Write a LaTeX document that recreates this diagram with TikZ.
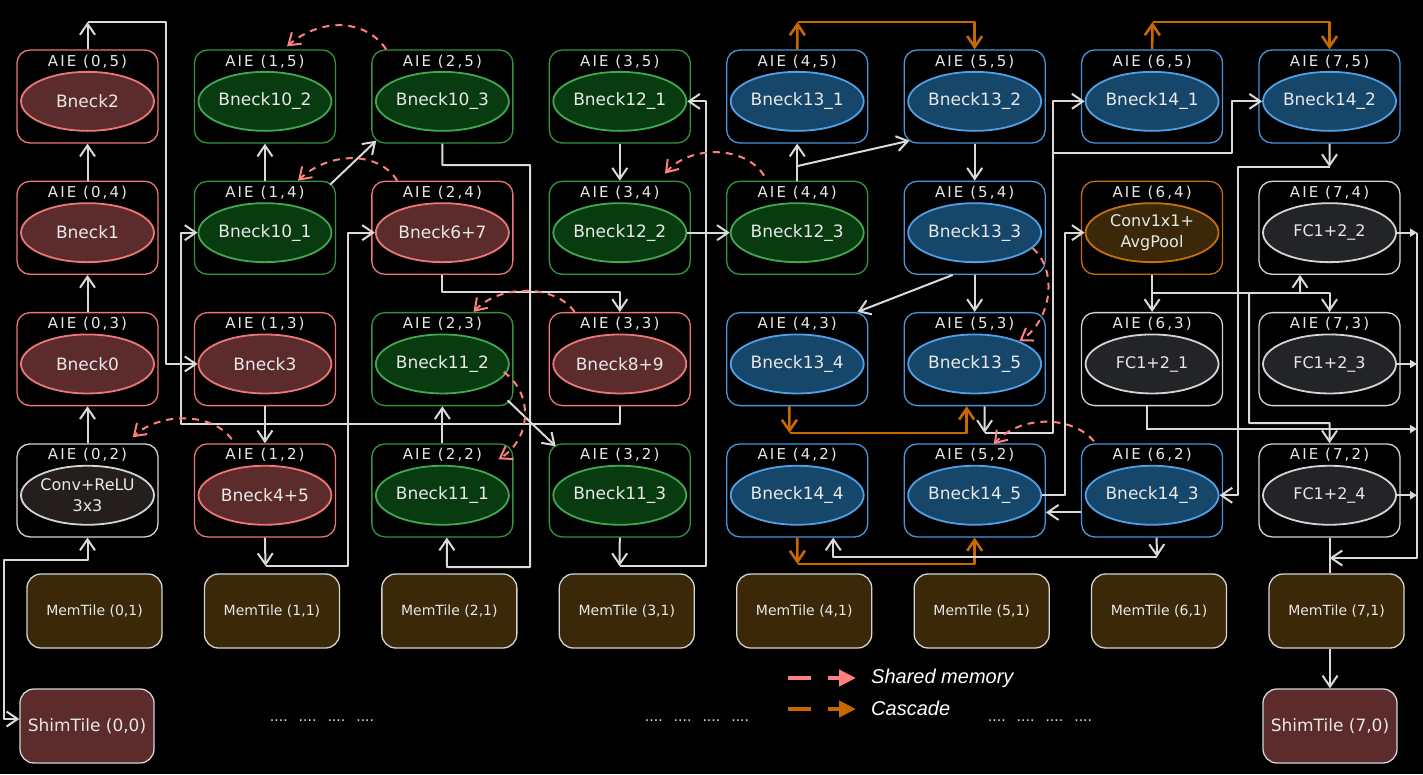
\documentclass[tikz,border=0pt]{standalone}
\usepackage{fontspec}
\setmainfont{DejaVu Sans}
\newfontfamily\aiefont[LetterSpace=14]{DejaVu Sans}
\newfontfamily\legfont{Liberation Sans}
\usetikzlibrary{shapes.geometric,arrows.meta,calc}

\definecolor{pinkB}{RGB}{238,118,118}
\definecolor{pinkF}{RGB}{92,44,44}
\definecolor{greenB}{RGB}{50,150,62}
\definecolor{greenE}{RGB}{64,168,80}
\definecolor{greenF}{RGB}{8,60,16}
\definecolor{blueB}{RGB}{72,150,220}
\definecolor{blueE}{RGB}{80,160,230}
\definecolor{blueF}{RGB}{22,70,106}
\definecolor{whB}{RGB}{212,212,212}
\definecolor{grayF}{RGB}{35,36,40}
\definecolor{cvF}{RGB}{36,31,28}
\definecolor{orB}{RGB}{200,110,10}
\definecolor{orF}{RGB}{58,40,8}
\definecolor{memF}{RGB}{58,40,8}
\definecolor{lineC}{RGB}{218,218,218}
\definecolor{cascC}{RGB}{200,105,0}
\definecolor{smC}{RGB}{255,128,128}
\definecolor{txtC}{RGB}{232,232,232}

\newcommand\ellfont{\fontsize{17}{21}\selectfont}
\newcommand\ellfonttwo{\fontsize{16}{21}\selectfont}
\newcommand\aielabfont{\aiefont\fontsize{15}{18}\selectfont}

% #1 extra ellipse options, #2 col, #3 row, #4 style, #5 text
\newcommand\aietile[5][]{%
  \pgfmathsetmacro\aiex{87.5+177.43*#2}%
  \pgfmathsetmacro\aiey{96.5+131.3*(5-#3)}%
  \node[tilebox,tile#4] (t#2#3) at (\aiex,\aiey) {};
  \node[aielab] (l#2#3) at ([yshift=-12pt]t#2#3.north) {AIE (#2,#3)};
  \node[ellbox,ell#4,#1] (e#2#3) at ([yshift=-52pt]t#2#3.north) {#5};
}

\begin{document}
\begin{tikzpicture}[x=1pt,y=-1pt,
  tilebox/.style={rectangle, rounded corners=13pt, minimum width=141pt, minimum height=93pt, line width=1.3pt, fill=black, inner sep=0pt},
  ellbox/.style={ellipse, minimum width=133pt, minimum height=59pt, inner sep=0pt, line width=1.8pt, text=txtC, font=\ellfont, align=center},
  aielab/.style={inner sep=0pt, text=txtC, font=\aielabfont},
  tilepk/.style={draw=pinkB}, ellpk/.style={draw=pinkB, fill=pinkF},
  tilegr/.style={draw=greenB}, ellgr/.style={draw=greenE, fill=greenF},
  tilebl/.style={draw=blueB}, ellbl/.style={draw=blueE, fill=blueF},
  tilewh/.style={draw=whB}, ellwh/.style={draw=whB, fill=grayF},
  tilecv/.style={draw=whB}, ellcv/.style={draw=whB, fill=cvF},
  tileor/.style={draw=orB}, ellor/.style={draw=orB, fill=orF},
  memtile/.style={rectangle, rounded corners=14pt, minimum width=135pt, minimum height=74pt, fill=memF, draw=whB, line width=1.3pt, text=txtC, font=\fontsize{14}{16}\selectfont},
  shimtile/.style={rectangle, rounded corners=14pt, minimum width=134pt, minimum height=74pt, fill=pinkF, draw=whB, line width=1.3pt, text=txtC, font=\fontsize{17}{20}\selectfont},
  dotsn/.style={inner sep=0pt, text=txtC, font=\fontsize{14}{16}\selectfont},
  >={Straight Barb[length=11pt,width=15pt]},
  conn/.style={draw=lineC, line width=2pt, line join=round, ->},
  plain/.style={draw=lineC, line width=2pt, line join=round},
  casc/.style={draw=cascC, line width=2.6pt, line join=round, ->},
  shm/.style={draw=smC, line width=2pt, dash pattern=on 7pt off 6pt, ->},
  busarr/.style={draw=lineC, line width=2pt, -{Triangle[length=7pt,width=8pt]}},
  legtext/.style={inner sep=0pt, anchor=west, text=white, font=\legfont\itshape\fontsize{20}{24}\selectfont}
]
\useasboundingbox (0,0) rectangle (1423,774);
\fill[black] (0,0) rectangle (1423,774);

% ---------------- AIE tiles ----------------
\aietile{0}{5}{pk}{Bneck2}
\aietile{0}{4}{pk}{Bneck1}
\aietile{0}{3}{pk}{Bneck0}
\aietile[font=\ellfonttwo]{0}{2}{cv}{Conv+ReLU\\3x3}
\aietile{1}{5}{gr}{Bneck10\_2}
\aietile{1}{4}{gr}{Bneck10\_1}
\aietile{1}{3}{pk}{Bneck3}
\aietile{1}{2}{pk}{Bneck4+5}
\aietile{2}{5}{gr}{Bneck10\_3}
\aietile{2}{4}{pk}{Bneck6+7}
\aietile{2}{3}{gr}{Bneck11\_2}
\aietile{2}{2}{gr}{Bneck11\_1}
\aietile{3}{5}{gr}{Bneck12\_1}
\aietile{3}{4}{gr}{Bneck12\_2}
\aietile{3}{3}{pk}{Bneck8+9}
\aietile{3}{2}{gr}{Bneck11\_3}
\aietile{4}{5}{bl}{Bneck13\_1}
\aietile{4}{4}{gr}{Bneck12\_3}
\aietile{4}{3}{bl}{Bneck13\_4}
\aietile{4}{2}{bl}{Bneck14\_4}
\aietile{5}{5}{bl}{Bneck13\_2}
\aietile{5}{4}{bl}{Bneck13\_3}
\aietile{5}{3}{bl}{Bneck13\_5}
\aietile{5}{2}{bl}{Bneck14\_5}
\aietile{6}{5}{bl}{Bneck14\_1}
\aietile[font=\ellfonttwo]{6}{4}{or}{Conv1x1+\\AvgPool}
\aietile[font=\ellfonttwo]{6}{3}{wh}{FC1+2\_1}
\aietile{6}{2}{bl}{Bneck14\_3}
\aietile{7}{5}{bl}{Bneck14\_2}
\aietile[font=\ellfonttwo]{7}{4}{wh}{FC1+2\_2}
\aietile[font=\ellfonttwo]{7}{3}{wh}{FC1+2\_3}
\aietile[font=\ellfonttwo]{7}{2}{wh}{FC1+2\_4}

% ---------------- Mem / Shim tiles ----------------
\foreach \i in {0,...,7}
  \node[memtile] (m\i) at ({94.5+177.43*\i},611) {MemTile (\i,1)};
\node[shimtile] (s0) at (87,726) {ShimTile (0,0)};
\node[shimtile] (s7) at (1330,726) {ShimTile (7,0)};

\node[dotsn] (d1) at (322,721) {....\hspace{11pt}....\hspace{11pt}....\hspace{11pt}....};
\node[dotsn] (d2) at (697,721) {....\hspace{11pt}....\hspace{11pt}....\hspace{11pt}....};
\node[dotsn] (d3) at (1040,721) {....\hspace{11pt}....\hspace{11pt}....\hspace{11pt}....};

% ---------------- column 0 ----------------
\draw[conn] (t02) -- (t03);
\draw[conn] (t03) -- (t04);
\draw[conn] (t04) -- (t05);
\coordinate (k1) at (87.5,22);
\draw[conn] (t05.north) -- (k1);
\draw[conn] (k1) -| ($(e13.west)+(-32,0)$) -- (e13.west);
\coordinate (k13) at (4,560);
\draw[conn,<->] ($(s0.west)+(0,-7)$) -| (k13) -| (t02.south);

% ---------------- column 1/2 ----------------
\draw[conn] (t33.south) |- (181,424) |- (e14.west);
\coordinate (k2) at (265.5,566);
\draw[conn] (t12.south) -- (k2);
\draw[conn] (k2) -| ($(e24.west)+(-27,0)$) -- (e24.west);
\draw[conn] (t13) -- (t12);
\draw[conn] (t14) -- (t15);
\draw[conn] ($(t14.north east)+(-6,4)$) -- ($(t25.south west)+(5,-3)$);
\draw[conn] (t25.south) |- (530,165) |- (447,567) -- ($(t22.south)+(4.5,0)$);
\draw[conn] (t22) -- (t23);
\draw[conn] (t24.south) |- ($(t33.north)+(0,-20)$) -- (t33.north);
\draw[conn] ($(t23.south east)+(-6,-6)$) -- ($(t32.north west)+(7,3)$);

% ---------------- column 3/4 ----------------
\coordinate (k3) at (619.5,566);
\draw[conn] (t32.south) -- (k3);
\draw[conn] (k3) -| ($(e35.east)+(19,0)$) -- (e35.east);
\draw[conn] (t35) -- (t34);
\draw[conn] (e34.east) -- (e44.west);
\draw[conn] (t44) -- (t45);
\coordinate (k4) at (797.5,166);
\draw[conn] (k4) -- ($(t55.south west)+(6,-3)$);
\draw[conn] (t55) -- (t54);
\draw[conn] ($(t54.south)+(-22,0)$) -- ($(t43.north east)+(-11,0)$);
\draw[conn] (t54) -- (t53);

% cascades
\coordinate (k5) at (789.5,433);
\draw[casc] ($(t43.south)+(-8,0)$) -- (k5);
\draw[casc] (k5) -| ($(t53.south)+(-8,0)$);
\coordinate (k6) at (797.5,564);
\draw[casc] (t42.south) -- (k6);
\draw[casc] (k6) -| (t52.south);
\coordinate (k7) at (797.5,22);
\draw[casc] (t45.north) -- (k7);
\draw[casc] (k7) -| (t55.north);
\coordinate (k8) at (1152.5,22);
\draw[casc] (t65.north) -- (k8);
\draw[casc] (k8) -| (t75.north);

% ---------------- column 5/6/7 ----------------
\coordinate (k9) at (984.5,433);
\draw[conn] ($(t53.south)+(10,0)$) -- (k9);
\draw[conn] (k9) -| ($(e65.west)+(-32,0)$) -- (e65.west);
\draw[conn] (1054,153) -| ($(e75.west)+(-30,0)$) -- (e75.west);
\draw[conn] (e52.east) -| ($(e64.west)+(-20,0)$) -- (e64.west);
\coordinate (k10) at (1329.5,167);
\draw[conn] (t75.south) -- (k10);
\draw[conn] (k10) -| ($(e62.east)+(19,0)$) -- (e62.east);
\draw[conn] ($(t62.west)+(0,22)$) -- ($(t52.east)+(0,22)$);
\coordinate (k11) at (1157,557);
\draw[conn] ($(t62.south)+(4.5,0)$) -- (k11);
\draw[conn] (k11) -| ($(t42.south)+(36,0)$);
\draw[conn] (t64) -- (t63);
\coordinate (k12) at (1152.5,293);
\draw[conn] (k12) -| (t73.north);
\draw[conn] (1300,293) -- ($(t74.south)+(-29.5,0)$);
\draw[conn] (1249,293) |- (1329.5,423) -- (t72.north);

% output bus
\coordinate (bx) at (1417,0);
\draw[busarr] (e74.east) -- (e74.east -| bx);
\draw[busarr] (e73.east) -- (e73.east -| bx);
\draw[busarr] (e72.east) -- (e72.east -| bx);
\draw[busarr] ($(t63.south)+(-5,0)$) |- (1417,429);
\draw[conn] (e74.east -| bx) -- (1417,558) -- (1329.5,558);
\draw[plain] (t72.south) -- (t72.south |- m7.north);
\draw[conn] (s7.north |- m7.south) -- (s7.north);

% ---------------- shared memory ----------------
\draw[shm] ($(t25.north west)+(15,0)$) .. controls (365,18) and (320,18) .. ($(t15.north east)+(-49,-3)$);
\draw[shm] ($(t24.north west)+(26,0)$) .. controls (378,150) and (328,152) .. ($(t14.north east)+(-38,0)$);
\draw[shm] ($(t44.north west)+(38,-5)$) .. controls (745,145) and (690,145) .. ($(t34.north east)+(-26,-7)$);
\draw[shm] ($(t33.north west)+(26,0)$) .. controls (555,284) and (500,284) .. ($(t23.north east)+(-40,0)$);
\draw[shm] ($(e23.east)+(-6,8)$) .. controls (535,395) and (530,440) .. ($(t22.north east)+(-15,16)$);
\draw[shm] (e54.-15) .. controls (1058,270) and (1052,320) .. (e53.27);
\draw[shm] ($(t62.north west)+(13,-2)$) .. controls (1072,415) and (1020,415) .. ($(t52.north east)+(-52,1)$);
\draw[shm] ($(t12.north west)+(38,-4)$) .. controls (212,412) and (160,412) .. ($(t02.north east)+(-26,-6)$);

% ---------------- legend ----------------
\coordinate (lga) at (788,678);
\coordinate (lgb) at (856,678);
\coordinate (lgc) at (788,709);
\coordinate (lgd) at (856,709);
\draw[draw=smC, line width=4.5pt, dash pattern=on 23pt off 17pt, -{Triangle[length=17pt,width=16pt]}] (lga) -- (lgb);
\draw[draw=cascC, line width=4.5pt, dash pattern=on 23pt off 17pt, -{Triangle[length=17pt,width=16pt]}] (lgc) -- (lgd);
\node[legtext] (lgt1) at (871,678) {Shared memory};
\node[legtext] (lgt2) at (871,708) {Cascade};
\end{tikzpicture}
\end{document}
